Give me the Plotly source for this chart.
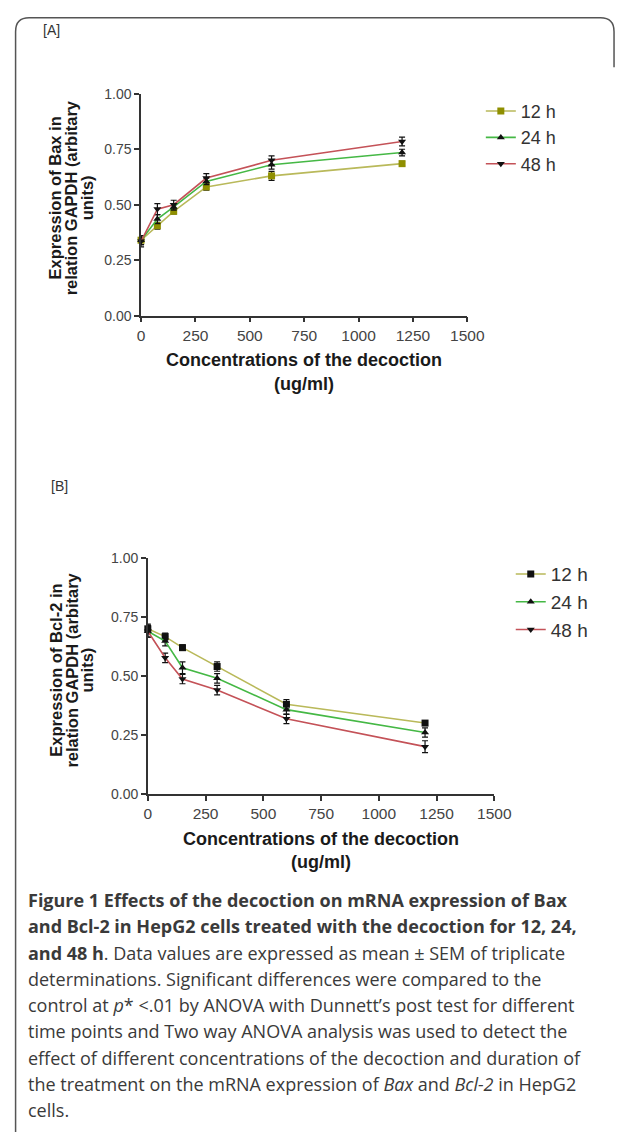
import plotly.graph_objects as go

W, H = 633, 1136

# ---------------- data ----------------
conc = [0, 75, 150, 300, 600, 1200]
series_names = ["12 h", "24 h", "48 h"]

bax_12 = [0.34, 0.405, 0.47, 0.58, 0.63, 0.685]
bax_24 = [0.34, 0.435, 0.49, 0.605, 0.68, 0.735]
bax_48 = [0.335, 0.48, 0.50, 0.62, 0.70, 0.785]
bax_12_err = [0.02, 0.015, 0.012, 0.015, 0.02, 0.01]
bax_24_err = [0.02, 0.02, 0.015, 0.015, 0.02, 0.015]
bax_48_err = [0.025, 0.025, 0.02, 0.02, 0.02, 0.02]

bcl_12 = [0.70, 0.667, 0.62, 0.54, 0.38, 0.30]
bcl_24 = [0.69, 0.648, 0.535, 0.49, 0.357, 0.26]
bcl_48 = [0.69, 0.577, 0.487, 0.44, 0.318, 0.20]
bcl_12_err = [0.02, 0.015, 0.012, 0.02, 0.02, 0.01]
bcl_24_err = [0.025, 0.02, 0.025, 0.02, 0.02, 0.02]
bcl_48_err = [0.025, 0.02, 0.02, 0.02, 0.02, 0.025]

x_ticks = [0, 250, 500, 750, 1000, 1250, 1500]
y_ticks = [0.0, 0.25, 0.5, 0.75, 1.0]

caption_lines = [
    "<b>Figure 1 Effects of the decoction on mRNA expression of Bax</b>",
    "<b>and Bcl-2 in HepG2 cells treated with the decoction for 12, 24,</b>",
    "<b>and 48 h</b>. Data values are expressed as mean ± SEM of triplicate",
    "determinations. Significant differences were compared to the",
    "control at <i>p</i>* &lt;.01 by ANOVA with Dunnett’s post test for different",
    "time points and Two way ANOVA analysis was used to detect the",
    "effect of different concentrations of the decoction and duration of",
    "the treatment on the mRNA expression of <i>Bax</i> and <i>Bcl-2</i> in HepG2",
    "cells.",
]

# ---------------- styles ----------------
line_cols = ["#b9b95a", "#45b845", "#c45258"]
top_marker_cols = ["#8f8f00", "#111111", "#111111"]
bot_marker_cols = ["#111111", "#111111", "#111111"]
symbols = ["square", "triangle-up", "triangle-down"]
SANS = "Liberation Sans, Arial, sans-serif"


def px(x):
    return x / W


def py(y):
    return 1 - y / H


fig = go.Figure()

top_sets = [(bax_12, bax_12_err), (bax_24, bax_24_err), (bax_48, bax_48_err)]
bot_sets = [(bcl_12, bcl_12_err), (bcl_24, bcl_24_err), (bcl_48, bcl_48_err)]

for i, (vals, errs) in enumerate(top_sets):
    fig.add_trace(go.Scatter(
        x=conc, y=vals, name=series_names[i], mode="lines+markers",
        xaxis="x", yaxis="y", legend="legend", legendgroup="t%d" % i,
        line=dict(color=line_cols[i], width=1.6),
        marker=dict(symbol=symbols[i], size=7, color=top_marker_cols[i]),
        error_y=dict(type="data", array=errs, color="#111111", thickness=1.2, width=3),
        cliponaxis=False,
    ))

for i, (vals, errs) in enumerate(bot_sets):
    fig.add_trace(go.Scatter(
        x=conc, y=vals, name=series_names[i], mode="lines+markers",
        xaxis="x2", yaxis="y2", legend="legend2", legendgroup="b%d" % i,
        line=dict(color=line_cols[i], width=1.6),
        marker=dict(symbol=symbols[i], size=7, color=bot_marker_cols[i]),
        error_y=dict(type="data", array=errs, color="#111111", thickness=1.2, width=3),
        cliponaxis=False,
    ))

xtick_font = dict(family=SANS, size=15.5, color="#444444")
ytick_font = dict(family=SANS, size=14, color="#444444")
axis_common = dict(
    showline=True, linecolor="#333333", linewidth=1.5,
    ticks="outside", ticklen=5, tickwidth=1.5, tickcolor="#333333",
    showgrid=False, zeroline=False, fixedrange=True,
)

fig.update_layout(
    width=W, height=H, autosize=False,
    margin=dict(l=0, r=0, t=0, b=0),
    paper_bgcolor="white", plot_bgcolor="white",
    xaxis=dict(domain=[px(142), px(480)], range=[0, 1500], tickvals=x_ticks,
               anchor="y", tickfont=xtick_font, **axis_common),
    yaxis=dict(domain=[py(312), py(87)], range=[0, 1], tickvals=y_ticks,
               tickformat=".2f", anchor="x", tickfont=ytick_font, **axis_common),
    xaxis2=dict(domain=[px(149), px(508)], range=[0, 1500], tickvals=x_ticks,
                anchor="y2", tickfont=xtick_font, **axis_common),
    yaxis2=dict(domain=[py(797), py(558)], range=[0, 1], tickvals=y_ticks,
                tickformat=".2f", anchor="x2", tickfont=ytick_font, **axis_common),
    legend=dict(x=px(494), y=py(86), xanchor="left", yanchor="top",
                font=dict(family=SANS, size=18, color="#333333"),
                bgcolor="rgba(0,0,0,0)", itemwidth=30, tracegroupgap=0,
                traceorder="normal"),
    legend2=dict(x=px(525), y=py(555), xanchor="left", yanchor="top",
                 font=dict(family=SANS, size=19, color="#333333"),
                 bgcolor="rgba(0,0,0,0)", itemwidth=30, tracegroupgap=2,
                 traceorder="normal"),
    showlegend=True,
)

annos = []
title_font = dict(family=SANS, size=18, color="#1a1a1a")
ytitle_font = dict(family=SANS, size=16.5, color="#1a1a1a")

# panel labels
annos.append(dict(text="[A]", x=px(38), y=py(22), xref="paper", yref="paper",
                  xanchor="left", yanchor="middle", showarrow=False,
                  font=dict(family=SANS, size=14, color="#333")))
annos.append(dict(text="[B]", x=px(47), y=py(485), xref="paper", yref="paper",
                  xanchor="left", yanchor="middle", showarrow=False,
                  font=dict(family=SANS, size=14, color="#333")))

# x titles
for cx, y1, y2 in [(311, 357, 381), (328, 843, 866)]:
    annos.append(dict(text="<b>Concentrations of the decoction</b>", x=px(cx), y=py(y1),
                      xref="paper", yref="paper", xanchor="center", yanchor="middle",
                      showarrow=False, font=title_font))
    annos.append(dict(text="<b>(ug/ml)</b>", x=px(cx), y=py(y2),
                      xref="paper", yref="paper", xanchor="center", yanchor="middle",
                      showarrow=False, font=title_font))

# y titles
for lines, cy in [(["Expression of Bax in", "relation GAPDH (arbitary", "units)"], 193),
                  (["Expression of Bcl-2 in", "relation GAPDH (arbitary", "units)"], 672)]:
    for j, t in enumerate(lines):
        annos.append(dict(text="<b>%s</b>" % t, x=px(53 + 16.5 * j), y=py(cy),
                          xref="paper", yref="paper", xanchor="center", yanchor="middle",
                          textangle=-90, showarrow=False, font=ytitle_font))

# caption
for k, t in enumerate(caption_lines):
    annos.append(dict(text=t, x=px(23), y=py(905 + 26.6 * k), xref="paper", yref="paper",
                      xanchor="left", yanchor="middle", showarrow=False, align="left",
                      font=dict(family="Open Sans, sans-serif", size=18, color="#3a3a3a")))

fig.update_layout(annotations=annos)

# frame (rounded top corners, open at bottom)
path = ("M {a},{b} L {a},{c} Q {a},{d} {e},{d} L {f},{d} Q {g},{d} {g},{h} L {g},{i}").format(
    a=px(12), b=py(1140), c=py(24), d=py(10), e=px(26), f=px(618), g=px(632), h=py(24), i=py(60))
fig.add_shape(type="path", path=path, xref="paper", yref="paper",
              line=dict(color="#555555", width=1.5))

page_fix = (
    "document.body.style.margin='0';document.body.style.padding='0';"
    "document.documentElement.style.overflow='hidden';document.body.style.overflow='hidden';"
)

fig.write_html("out.html", config={"displayModeBar": False}, post_script=page_fix)
